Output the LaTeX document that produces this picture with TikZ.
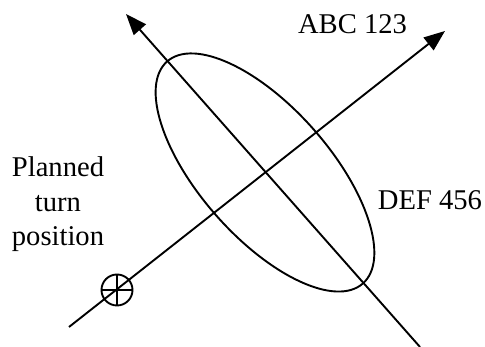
\documentclass[tikz,border=0pt]{standalone}
\usepackage{fontspec}
\setmainfont{Liberation Serif}
\usetikzlibrary{arrows.meta}
\begin{document}
\begin{tikzpicture}[x=1pt,y=1pt,
  axis/.style={line width=1.9pt,-{Triangle[length=21pt,width=16pt]}},
  outline/.style={line width=1.9pt},
  lbl/.style={inner sep=0pt,font=\fontsize{28.6}{34.5}\selectfont}]
\useasboundingbox (0,0) rectangle (485,347);
\coordinate (c) at (265,174.5);
\coordinate (a1s) at (420,0);
\coordinate (a1e) at (126,333);
\coordinate (a2s) at (69,20);
\coordinate (a2e) at (445,316);
\coordinate (turn) at (117,57);
\draw[axis] (a1s) -- (a1e);
\draw[axis] (a2s) -- (a2e);
\draw[outline,rotate around={-48.6:(c)}] (c) ellipse [x radius=148pt, y radius=65pt];
\draw[outline] (turn) circle [radius=15.5pt];
\draw[outline] ([xshift=-15.5pt]turn) -- ([xshift=15.5pt]turn);
\draw[outline] ([yshift=-15.5pt]turn) -- ([yshift=15.5pt]turn);
\node[lbl,anchor=base] (abc) at (352.5,313) {ABC 123};
\node[lbl,anchor=base] (def) at (430,137) {DEF 456};
\node[lbl,anchor=base,align=center] (plan) at (58,101) {Planned\\turn\\position};
\end{tikzpicture}
\end{document}
